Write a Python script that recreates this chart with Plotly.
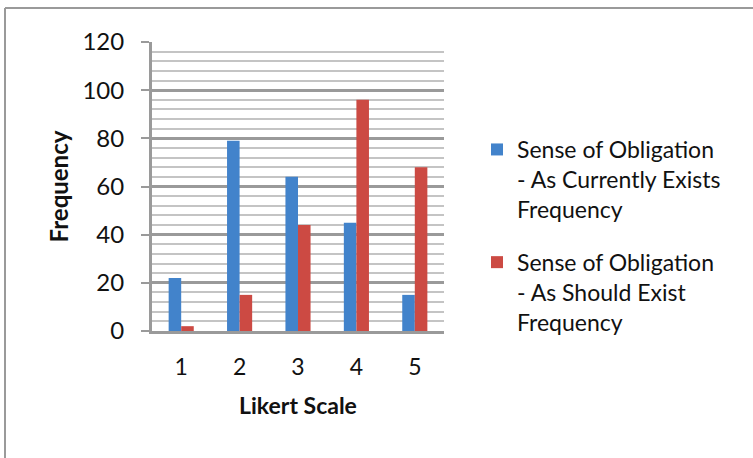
import plotly.graph_objects as go

categories = ["1", "2", "3", "4", "5"]
currently_exists = [22, 79, 64, 45, 15]
should_exist = [2, 15, 44, 96, 68]
series_names = ["Sense of Obligation<br>- As Currently Exists<br>Frequency",
                "Sense of Obligation<br>- As Should Exist<br>Frequency"]
y_ticks = [0, 20, 40, 60, 80, 100, 120]

FONT = "Lato, Open Sans, sans-serif"

fig = go.Figure()
fig.add_trace(go.Bar(x=categories, y=currently_exists, name=series_names[0],
                     legendgroup="a",
                     marker=dict(color="#4283cb", line=dict(width=0))))
fig.add_trace(go.Bar(x=categories, y=should_exist, name=series_names[1],
                     legendgroup="b",
                     marker=dict(color="#cc4a43", line=dict(width=0))))

W, H = 753, 458
L, R, T, B = 152, 444, 42, 331
pw, ph = R - L, B - T

def px_x(p):
    return (p - L) / pw

def px_y(p):
    return (B - p) / ph

shapes = [
    dict(type="line", xref="paper", yref="paper",
         x0=px_x(5), x1=px_x(760), y0=px_y(8), y1=px_y(8),
         line=dict(color="#9a9a9a", width=2), layer="below"),
    dict(type="line", xref="paper", yref="paper",
         x0=px_x(5), x1=px_x(5), y0=px_y(8), y1=px_y(470),
         line=dict(color="#9a9a9a", width=2), layer="below"),
]

fig.update_layout(
    width=W, height=H,
    margin=dict(l=L, r=W - R, t=T, b=H - B),
    paper_bgcolor="white", plot_bgcolor="white",
    barmode="group", bargap=0.57, bargroupgap=0,
    font=dict(family=FONT, size=22, color="#111"),
    showlegend=True,
    legend=dict(x=px_x(477), y=px_y(128), xanchor="left", yanchor="top",
                font=dict(family=FONT, size=23, color="#111"),
                tracegroupgap=20, itemwidth=30, traceorder="grouped",
                valign="top", bgcolor="rgba(0,0,0,0)"),
    shapes=shapes,
    xaxis=dict(title=dict(text="<b>Likert Scale</b>", font=dict(size=23), standoff=20),
               showline=True, linecolor="#9a9a9a", linewidth=3,
               showgrid=False, ticks="", tickfont=dict(size=23),
               ticklabelstandoff=13),
    yaxis=dict(title=dict(text="<b>Frequency</b>", font=dict(size=24), standoff=8),
               range=[0, 120], tickvals=y_ticks, ticks="outside", ticklen=8,
               tickcolor="#9a9a9a", tickwidth=2,
               showline=True, linecolor="#9a9a9a", linewidth=3,
               showgrid=True, gridcolor="#9a9a9a", gridwidth=2.5,
               minor=dict(dtick=4, showgrid=True, gridcolor="#c4c4c4", gridwidth=2),
               zeroline=False, tickfont=dict(size=24), ticklabelstandoff=12),
)

fig.write_html("out.html")
